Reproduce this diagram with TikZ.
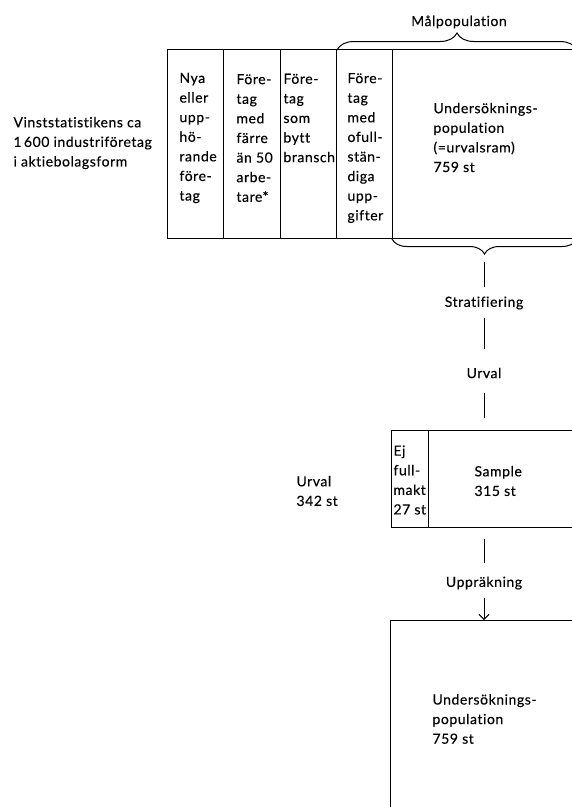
\documentclass[tikz,border=0pt]{standalone}
\usepackage{fontspec}
\setmainfont{Lato}[LetterSpace=4,FakeBold=0.3,Ligatures=NoCommon]
\usetikzlibrary{decorations.pathreplacing,arrows.meta}

\begin{document}
\begin{tikzpicture}[x=1pt,y=-1pt,line width=1pt,
        txt/.style={inner sep=0pt,align=left,anchor=west,font=\fontsize{14}{19.6}\selectfont},
        lbl/.style={inner sep=0pt,font=\fontsize{14}{19.6}\selectfont},
        brc/.style={decorate,decoration={brace,amplitude=#1}}]
        \useasboundingbox (0,0) rectangle (572,807);
        \clip (0,0) rectangle (572,807);

        \node[txt] (frame) at (13,143) {Vinststatistikens ca\\1\,600 industriföretag\\i aktiebolagsform};

        \draw (167,49) rectangle (577,238);
        \foreach \x in {223,280,336,392} \draw (\x,49) -- (\x,238);
        \node[txt] (nya) at (179,138) {Nya\\eller\\upp-\\hö-\\rande\\före-\\tag};
        \node[txt] (sma) at (236,138) {Före-\\tag\\med\\färre\\än 50\\arbe-\\tare*};
        \node[txt] (bytt) at (283,118) {Före-\\tag\\som\\bytt\\bransch};
        \node[txt] (ofull) at (347,148) {Före-\\tag\\med\\ofull-\\stän-\\diga\\upp-\\gifter};
        \node[txt] (upop) at (433,137.5) {Undersöknings-\\population\\(=urvalsram)\\759 st};

        \draw[brc=17] (337,50) -- (577,50);
        \node[lbl] (mal) at (459,22) {Målpopulation};
        \draw[brc=15] (577,239) -- (392,239);
        \coordinate (btip) at (484,254);

        \node[lbl] (strat) at (484,303) {Stratifiering};
        \node[lbl] (urv) at (484,373) {Urval};

        \node[draw,inner sep=0pt,anchor=north west,minimum width=186pt,minimum height=97pt] (smp) at (391,430) {};
        \draw (428,430) -- (428,527);
        \node[txt] (ej) at (393,480) {Ej\\full-\\makt\\27 st};
        \node[txt] (sample) at (474,481) {Sample\\315 st};
        \node[txt] (urv342) at (296,491) {Urval\\342 st};

        \node[lbl] (upp) at (484,583) {Uppräkning};
        \node[draw,inner sep=0pt,anchor=north west,minimum width=187pt,minimum height=200pt] (ubox) at (390,620) {};
        \node[txt] (upop2) at (432,719) {Undersöknings-\\population\\759 st};

        \draw[shorten <=8pt,shorten >=9pt] (btip) -- (strat.north);
        \draw[shorten <=8pt,shorten >=18pt] (strat.south) -- (urv.north);
        \draw[shorten <=14pt,shorten >=12pt] (urv.south) -- (smp.north -| urv.south);
        \draw[shorten <=11pt,shorten >=13pt] (smp.south -| upp.north) -- (upp.north);
        \draw[-{Straight Barb[length=5pt,width=10pt]},shorten <=8pt] (upp.south) -- (ubox.north -| upp.south);
    \end{tikzpicture}
\end{document}
